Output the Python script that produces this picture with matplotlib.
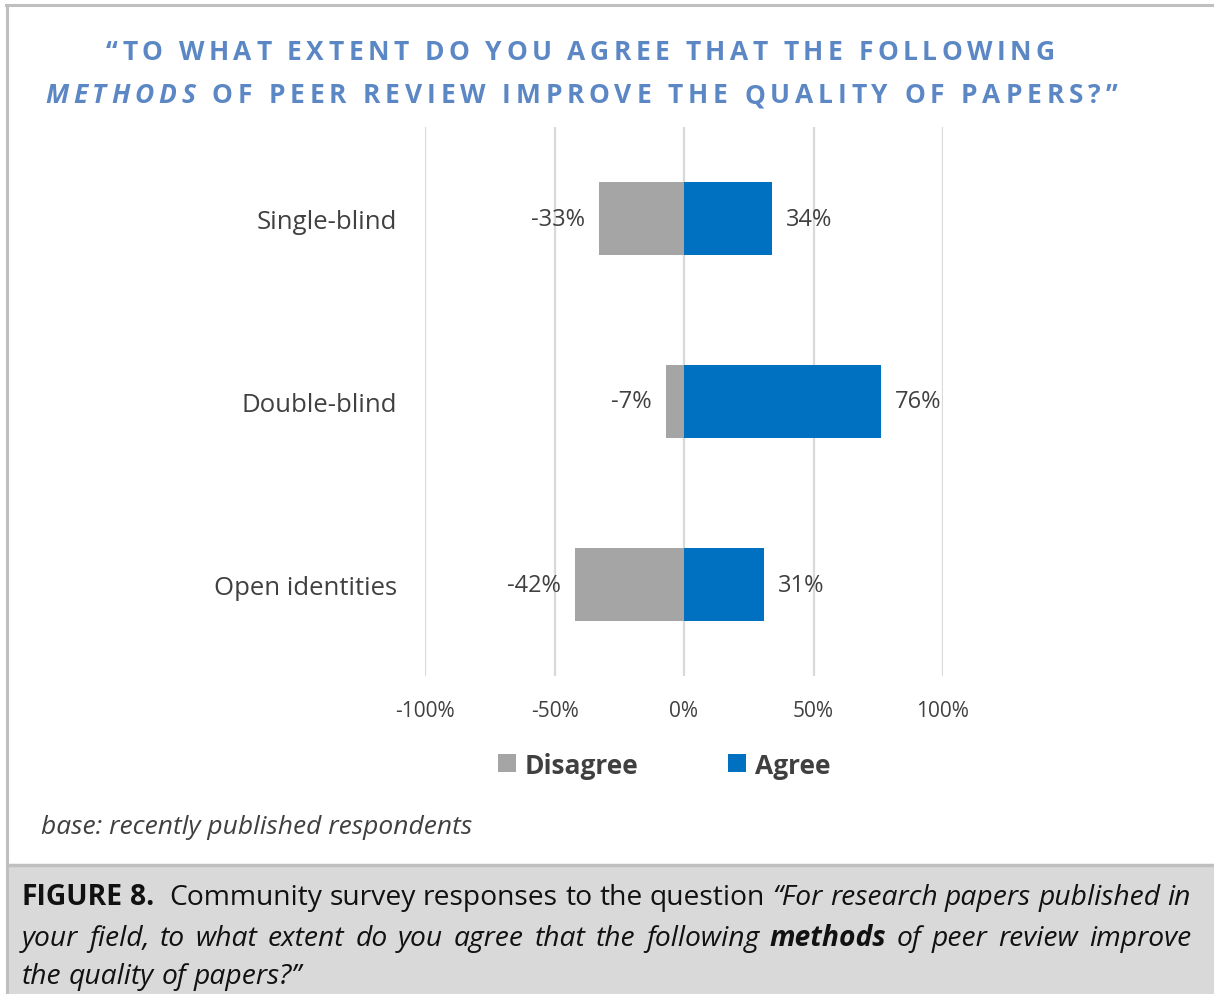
import matplotlib
matplotlib.use("Agg")
import matplotlib.pyplot as plt
from matplotlib.patches import Rectangle
from matplotlib.lines import Line2D

plt.rcParams['font.family'] = ['Open Sans', 'DejaVu Sans']

# survey data (% of respondents)
methods = ['Single-blind', 'Double-blind', 'Open identities']
disagree = [-33, -7, -42]
agree = [34, 76, 31]
ticks = [-100, -50, 0, 50, 100]

GREY = '#a5a5a5'
BLUE = '#0070c0'
TXT = '#404040'
TITLE = '#5b87c5'

W, H = 1214, 995
fig = plt.figure(figsize=(W / 100, H / 100), dpi=100)


def fx(x):
    return x / W


def fy(y):
    return 1 - y / H


# page frame and caption panel
fig.add_artist(Line2D([fx(6), 1], [fy(6), fy(6)], transform=fig.transFigure,
                      color='#bfbfbf', lw=2.2))
fig.add_artist(Line2D([fx(7), fx(7)], [fy(6), 0], transform=fig.transFigure,
                      color='#bfbfbf', lw=2.2))
fig.add_artist(Rectangle((fx(8), 0), 1 - fx(8), fy(866), transform=fig.transFigure,
                         facecolor='#d9d9d9', edgecolor='none'))
fig.add_artist(Line2D([fx(8), 1], [fy(866), fy(866)], transform=fig.transFigure,
                      color='#bfbfbf', lw=2.5))

ax = fig.add_axes([fx(425), fy(677), fx(943) - fx(425), fy(128) - fy(677)])
y = list(range(len(methods)))
b1 = ax.barh(y, disagree, height=0.4, color=GREY, label='Disagree', zorder=3)
b2 = ax.barh(y, agree, height=0.4, color=BLUE, label='Agree', zorder=3)
ax.bar_label(b1, labels=[f'{v}%' for v in disagree], padding=10, fontsize=17, color=TXT)
ax.bar_label(b2, labels=[f'{v}%' for v in agree], padding=10, fontsize=17, color=TXT)

ax.set_xlim(-100, 100)
ax.set_ylim(2.5, -0.5)
ax.set_xticks(ticks)
ax.set_xticklabels([f'{t}%' for t in ticks])
ax.set_yticks(y)
ax.set_yticklabels(methods)
ax.tick_params(axis='x', length=0, pad=17, labelsize=15, labelcolor=TXT)
ax.tick_params(axis='y', length=0, pad=20, labelsize=18.5, labelcolor=TXT)
ax.xaxis.grid(True, color='#d9d9d9', lw=1.6, zorder=0)
ax.set_axisbelow(True)
for s in ax.spines.values():
    s.set_visible(False)

leg = fig.legend(handles=[b1, b2], loc='center', ncol=2, frameon=False,
                 bbox_to_anchor=(fx(664), fy(766)), handlelength=0.68, handleheight=0.68,
                 handletextpad=0.33, columnspacing=3.4,
                 prop={'weight': 'bold', 'size': 19})
for t in leg.get_texts():
    t.set_color(TXT)

fig.text(fx(41), fy(828), 'base: recently published respondents', fontsize=19,
         style='italic', color=TXT, va='center')

fig.canvas.draw()
renderer = fig.canvas.get_renderer()


def advance(s, **kw):
    # advance width of a string in pixels, spaces included
    t1 = fig.text(0, 0, '|' + s + '|', **kw)
    t2 = fig.text(0, 0, '||', **kw)
    w = t1.get_window_extent(renderer).width - t2.get_window_extent(renderer).width
    t1.remove()
    t2.remove()
    return w


def tracked(runs, x0, x1, ybase, **common):
    # letter-spaced line spread between x0 and x1
    chars = [(c, kw) for text, kw in runs for c in text]
    widths = [advance(c, **common, **kw) for c, kw in chars]
    track = (x1 - x0 - sum(widths)) / (len(chars) - 1)
    x = x0
    for (c, kw), w in zip(chars, widths):
        fig.text(fx(x), fy(ybase), c, va='baseline', **common, **kw)
        x += w + track


tstyle = dict(fontsize=19, weight='bold', color=TITLE)
tracked([('\u201cTO WHAT EXTENT DO YOU AGREE THAT THE FOLLOWING', {})],
        106, 1055, 60, **tstyle)
tracked([('METHODS', {'style': 'italic'}),
         (' OF PEER REVIEW IMPROVE THE QUALITY OF PAPERS?\u201d', {})],
        45, 1117, 103, **tstyle)


def caption_line(runs, x0, x1, ybase, fs, justify):
    # words of one caption line, optionally stretched to fill x0..x1
    words = []
    for text, kw in runs:
        parts = text.split(' ')
        for i, p in enumerate(parts):
            if p:
                words.append((p, kw))
            if i < len(parts) - 1:
                words.append((' ', kw))
    widths = [advance(w, fontsize=fs, **kw) for w, kw in words]
    nsp = sum(1 for w, _ in words if w == ' ')
    extra = (x1 - x0 - sum(widths)) / nsp if justify else 0
    x = x0
    for (w, kw), wd in zip(words, widths):
        if w == ' ':
            x += wd + extra
            continue
        fig.text(fx(x), fy(ybase), w, fontsize=fs, color='#111111',
                 va='baseline', **kw)
        x += wd


NORMAL = {}
ITAL = {'style': 'italic'}
BOLD = {'weight': 'bold'}
BOLDITAL = {'style': 'italic', 'weight': 'bold'}
cap_lines = [
    [('FIGURE 8.', BOLD), ('  Community survey responses to the question ', NORMAL),
     ('\u201cFor research papers published in', ITAL)],
    [('your field, to what extent do you agree that the following ', ITAL),
     ('methods', BOLDITAL), (' of peer review improve', ITAL)],
    [('the quality of papers?\u201d', ITAL)],
]
base = 18
w1 = sum(advance(t, fontsize=base, **kw) for t, kw in cap_lines[0])
cap_fs = base * (1193 - 22) / w1
for i, (line, yb) in enumerate(zip(cap_lines, [905, 946, 984])):
    caption_line(line, 22, 1191, yb, cap_fs, justify=(i < 2))

fig.savefig('out.png', dpi=100)
